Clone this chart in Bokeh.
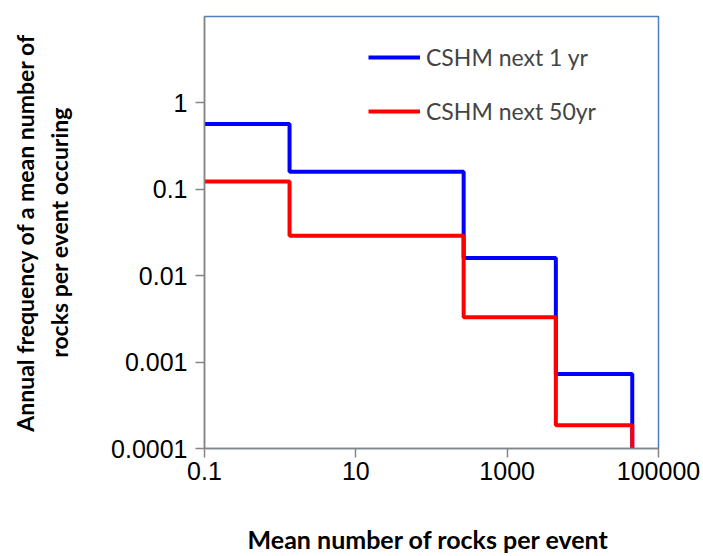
from bokeh.plotting import figure
from bokeh.models import FixedTicker, CustomJSTickFormatter, Legend, LegendItem
from bokeh.embed import file_html
from bokeh.resources import INLINE

# Data
step_edges = [0.1, 1.33, 266, 4400, 45000]
cshm_1yr = [0.57, 0.16, 0.016, 0.00073, 0.0001]
cshm_50yr = [0.123, 0.029, 0.0033, 0.000186, 0.0001]
x_ticks = [0.1, 10, 1000, 100000]
y_ticks = [0.0001, 0.001, 0.01, 0.1, 1]

p = figure(width=703, height=556, x_axis_type="log", y_axis_type="log",
           x_range=(0.1, 100000), y_range=(0.0001, 10),
           output_backend="svg", toolbar_location=None,
           min_border_left=204, min_border_right=45, min_border_top=16,
           min_border_bottom=108)
p.frame_width = 454
p.frame_height = 432

p.xgrid.visible = False
p.ygrid.visible = False
p.outline_line_color = "#4F81BD"
p.outline_line_width = 1.5

r1 = p.step(step_edges, cshm_1yr, mode="after", line_color="#0000FF", line_width=4)
r2 = p.step(step_edges, cshm_50yr, mode="after", line_color="#FF0000", line_width=4)

fmt = CustomJSTickFormatter(code="return tick.toString();")
for ax, ticks in ((p.xaxis[0], x_ticks), (p.yaxis[0], y_ticks)):
    ax.ticker = FixedTicker(ticks=ticks, minor_ticks=[])
    ax.formatter = fmt
    ax.axis_line_color = "#868686"
    ax.axis_line_width = 1.5
    ax.major_tick_line_color = "#868686"
    ax.major_tick_line_width = 1.5
    ax.major_tick_out = 9
    ax.major_tick_in = 0
    ax.minor_tick_out = 0
    ax.minor_tick_in = 0
    ax.major_label_text_font = "Liberation Sans"
    ax.major_label_text_font_size = "25px"
    ax.major_label_text_color = "#000000"
    ax.axis_label_text_font = "Lato"
    ax.axis_label_text_font_style = "bold"
    ax.axis_label_text_color = "#000000"

p.xaxis[0].axis_label = "Mean number of rocks  per event"
p.xaxis[0].axis_label_text_font_size = "25px"
p.xaxis[0].major_label_standoff = 4
p.xaxis[0].axis_label_standoff = 41
p.yaxis[0].axis_label = "Annual frequency of a mean number of\nrocks per event occuring"
p.yaxis[0].axis_label_text_font_size = "23px"
p.yaxis[0].major_label_standoff = 8
p.yaxis[0].axis_label_standoff = 35

legend = Legend(items=[LegendItem(label="CSHM next 1 yr", renderers=[r1]),
                       LegendItem(label="CSHM next 50yr", renderers=[r2])],
                location=(164, 323))
legend.label_text_font = "Lato"
legend.label_text_font_size = "23px"
legend.glyph_width = 52
legend.glyph_height = 20
legend.label_height = 20
legend.spacing = 26
legend.padding = 0
legend.margin = 0
legend.label_standoff = 6
legend.border_line_color = None
legend.background_fill_alpha = 0
p.add_layout(legend)

open("out.html", "w").write(file_html(p, INLINE))
